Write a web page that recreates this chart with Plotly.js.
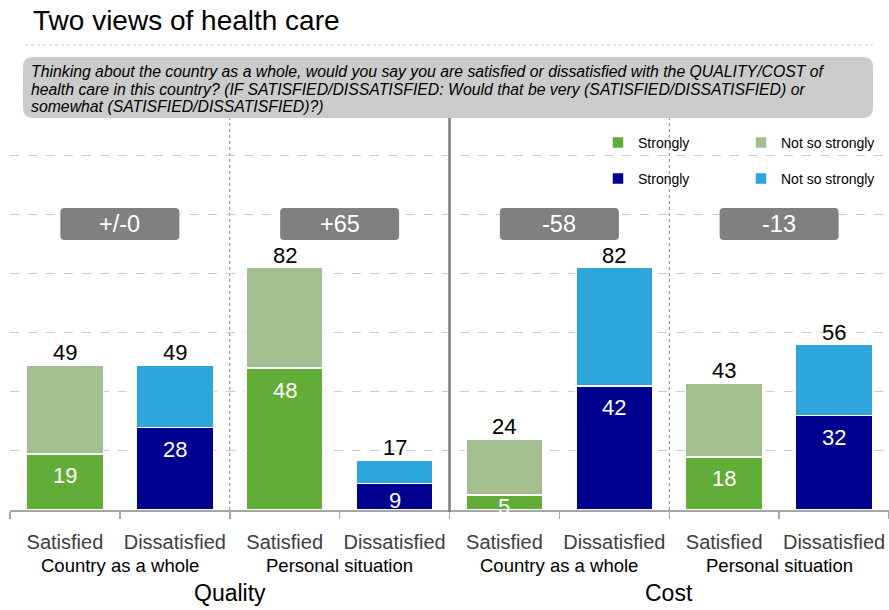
<!DOCTYPE html>
<html>
<head>
<meta charset="utf-8">
<script src="https://cdn.plot.ly/plotly-3.0.1.min.js"></script>
<style>html,body{margin:0;padding:0;background:#fff;}#chart{width:889px;height:610px;}</style>
</head>
<body>
<div id="chart"></div>
<script>
// ---- data ----
const categories = ["Satisfied", "Dissatisfied", "Satisfied", "Dissatisfied", "Satisfied", "Dissatisfied", "Satisfied", "Dissatisfied"];
const groups = ["Country as a whole", "Personal situation", "Country as a whole", "Personal situation"];
const topics = ["Quality", "Cost"];
const strongly = [19, 28, 48, 9, 5, 42, 18, 32];
const totals = [49, 49, 82, 17, 24, 82, 43, 56];
const diffLabels = ["+/-0", "+65", "-58", "-13"];
const legendNames = ["Strongly", "Not so strongly"];
const questionLines = [
  "Thinking about the country as a whole, would you say you are satisfied or dissatisfied with the QUALITY/COST of",
  "health care in this country? (IF SATISFIED/DISSATISFIED: Would that be very (SATISFIED/DISSATISFIED) or",
  "somewhat (SATISFIED/DISSATISFIED)?)"
];
const chartTitle = "Two views of health care";

// ---- styles ----
const C_SAT_STRONG = "#62ac38", C_SAT_SOFT = "#a3bf8f";
const C_DIS_STRONG = "#000090", C_DIS_SOFT = "#2da6dc";
const FONT = "Liberation Sans, Arial, sans-serif";
const M = {l: 10, r: 0, t: 120, b: 100};
const W = 889, H = 610;
const YMAX = 132;
const plotW = W - M.l - M.r, plotH = H - M.t - M.b;
const PXU = plotH / YMAX;
const PXX = plotW / categories.length;

const xs = categories.map((_, i) => i);
const notSo = totals.map((t, i) => t - strongly[i]);
const satIdx = xs.filter(i => i % 2 === 0), disIdx = xs.filter(i => i % 2 === 1);
const pick = (arr, idx) => idx.map(i => arr[i]);

function bar(idx, vals, name, legend, color) {
  return {type: "bar", x: idx, y: pick(vals, idx), name: name, legend: legend, width: 0.7, hoverinfo: "skip",
    marker: {color: color, line: {color: "#ffffff", width: 1.5}}};
}
const traces = [
  bar(satIdx, strongly, legendNames[0], "legend", C_SAT_STRONG),
  bar(satIdx, notSo, legendNames[1], "legend", C_SAT_SOFT),
  bar(disIdx, strongly, legendNames[0], "legend2", C_DIS_STRONG),
  bar(disIdx, notSo, legendNames[1], "legend2", C_DIS_SOFT)
];

const annotations = [];
totals.forEach((t, i) => annotations.push({x: i, y: t, xref: "x", yref: "y", text: String(t), showarrow: false, yanchor: "bottom", yshift: -2, font: {family: FONT, size: 22, color: "#000"}}));
strongly.forEach((v, i) => {
  const shift = Math.min(22, v * PXU / 2 + 4);
  annotations.push({x: i, y: v, xref: "x", yref: "y", text: String(v), showarrow: false, yanchor: "middle", yshift: -shift, font: {family: FONT, size: 22, color: "#fff"}});
});
groups.forEach((g, k) => annotations.push({x: 2 * k + 0.5, xref: "x", y: -55 / plotH, yref: "paper", text: g, showarrow: false, yanchor: "middle", font: {family: FONT, size: 18.5, color: "#000"}}));
topics.forEach((t, k) => annotations.push({x: 4 * k + 1.5, xref: "x", y: -83 / plotH, yref: "paper", text: t, showarrow: false, yanchor: "middle", font: {family: FONT, size: 23, color: "#000"}}));

const shapes = [];
function roundRect(x0, x1, y0, y1, rx, ry) {
  return `M${x0 + rx},${y0} L${x1 - rx},${y0} Q${x1},${y0} ${x1},${y0 + ry} L${x1},${y1 - ry} Q${x1},${y1} ${x1 - rx},${y1} L${x0 + rx},${y1} Q${x0},${y1} ${x0},${y1 - ry} L${x0},${y0 + ry} Q${x0},${y0} ${x0 + rx},${y0} Z`;
}
const boxHalfW = 59.5 / PXX, boxY0 = 91.4, boxY1 = 102.2;
diffLabels.forEach((d, k) => {
  const cx = 2 * k + 0.5;
  shapes.push({type: "path", xref: "x", yref: "y", path: roundRect(cx - boxHalfW, cx + boxHalfW, boxY0, boxY1, 4 / PXX, 4 / PXU), fillcolor: "#808080", line: {width: 0}, layer: "above"});
  annotations.push({x: cx, y: (boxY0 + boxY1) / 2, xref: "x", yref: "y", text: d, showarrow: false, yanchor: "middle", font: {family: FONT, size: 23.5, color: "#fff"}});
});
// question box (pixel rows 57..118)
const qTop = 57, qBottom = 118;
const py = px => (H - M.b - px) / plotH;
const qx0 = 13 / plotW, qx1 = 863 / plotW;
shapes.push({type: "path", xref: "paper", yref: "paper", path: roundRect(qx0, qx1, py(qBottom), py(qTop), 10 / plotW, 10 / plotH), fillcolor: "#cbcbcb", line: {width: 0}, layer: "above"});
const qLineY = [71, 89, 107];
questionLines.forEach((ln, k) => annotations.push({x: 19 / plotW, y: py(qLineY[k]), xref: "paper", yref: "paper", xanchor: "left", yanchor: "middle", align: "left", showarrow: false, text: "<i>" + ln + "</i>", font: {family: FONT, size: 15.8, color: "#000"}}));
// title underline
shapes.push({type: "line", xref: "paper", yref: "paper", x0: 15 / plotW, x1: 863 / plotW, y0: py(45), y1: py(45), line: {color: "#c8c8c8", width: 1, dash: "dot"}});
// separators
[1.5, 5.5].forEach(x => shapes.push({type: "line", xref: "x", yref: "paper", x0: x, x1: x, y0: 0, y1: py(qBottom), line: {color: "#808080", width: 1, dash: "3px,3px"}, layer: "below"}));
shapes.push({type: "line", xref: "x", yref: "paper", x0: 3.5, x1: 3.5, y0: py(512), y1: py(qBottom), line: {color: "#7f7f7f", width: 2.5}});

const boundaries = [];
for (let i = 0; i <= categories.length; i++) boundaries.push(i - 0.5);

const legendBase = {orientation: "h", xanchor: "left", yanchor: "middle", x: (598 - M.l) / plotW, bgcolor: "rgba(0,0,0,0)", font: {family: FONT, size: 14, color: "#000"}, entrywidth: 98, entrywidthmode: "pixels", traceorder: "normal"};

const layout = {
  width: W, height: H,
  margin: M,
  paper_bgcolor: "#fff", plot_bgcolor: "#fff",
  barmode: "stack",
  showlegend: true,
  title: {text: chartTitle, font: {family: FONT, size: 28, color: "#000"}, xref: "container", yref: "container", x: 33 / W, xanchor: "left", y: 1 - 20 / H, yanchor: "middle"},
  xaxis: {range: [-0.5, categories.length - 0.5], tickmode: "array", tickvals: xs, ticktext: categories, ticks: "", showline: true, linecolor: "#a6a6a6", linewidth: 1.5, showgrid: false, zeroline: false, tickfont: {family: FONT, size: 20, color: "#404040"}, ticklabelstandoff: 13, fixedrange: true,
    minor: {tickmode: "array", tickvals: boundaries, ticks: "outside", ticklen: 7, tickcolor: "#a6a6a6", tickwidth: 1.5, showgrid: false}},
  yaxis: {range: [0, YMAX], dtick: 20, tick0: 0, showticklabels: false, ticks: "", showgrid: true, gridcolor: "#cccccc", griddash: "dash", gridwidth: 1, zeroline: false, showline: false, fixedrange: true},
  legend: Object.assign({}, legendBase, {y: py(143)}),
  legend2: Object.assign({}, legendBase, {y: py(179)}),
  shapes: shapes,
  annotations: annotations
};

Plotly.newPlot("chart", traces, layout, {displayModeBar: false, staticPlot: true});
</script>
</body>
</html>
